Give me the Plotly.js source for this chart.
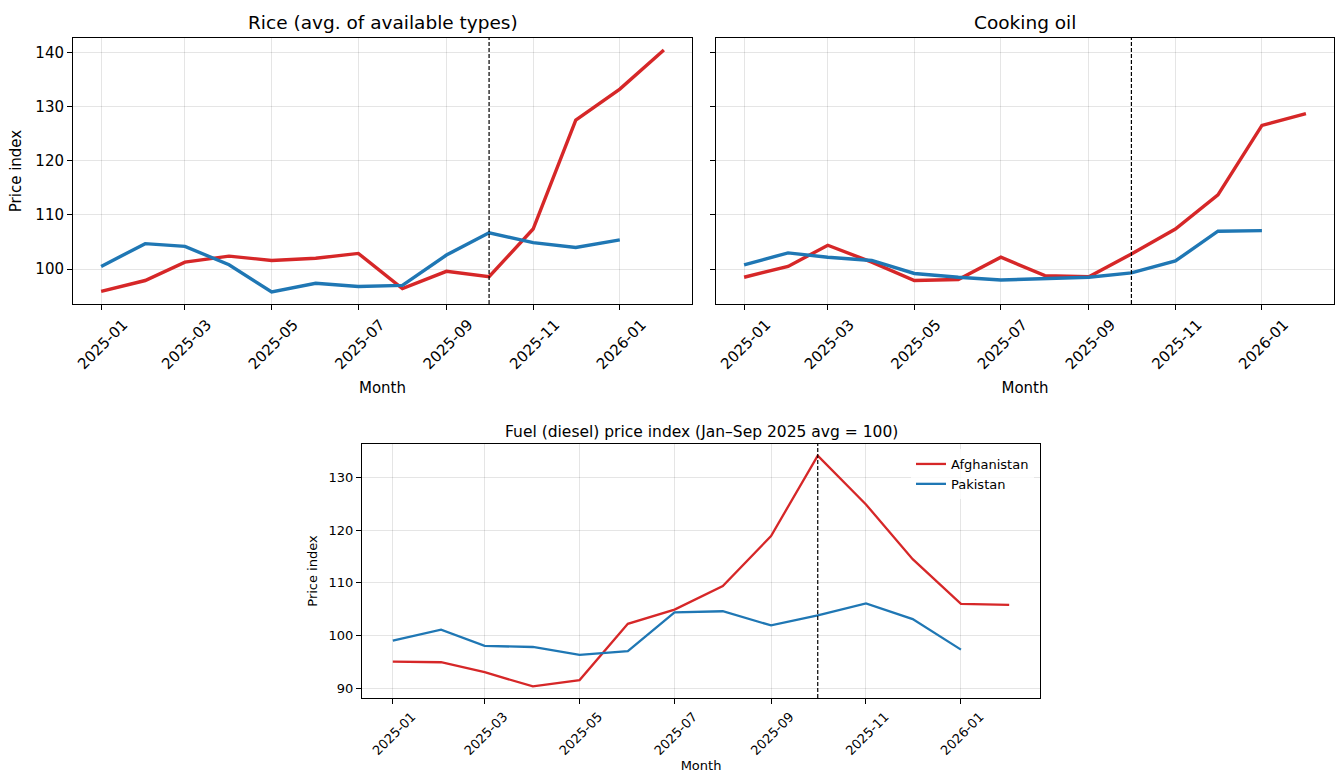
<!DOCTYPE html>
<html>
<head>
<meta charset="utf-8">
<script src="https://cdn.plot.ly/plotly-3.0.1.min.js"></script>
<style>html,body{margin:0;padding:0;background:#fff;}#chart{width:1339px;height:773px;}</style>
</head>
<body>
<div id="chart"></div>
<script>
const months = ['2025-01-01','2025-02-01','2025-03-01','2025-04-01','2025-05-01','2025-06-01','2025-07-01','2025-08-01','2025-09-01','2025-10-01','2025-11-01','2025-12-01','2026-01-01','2026-02-01'];
const tickVals = ['2025-01-01','2025-03-01','2025-05-01','2025-07-01','2025-09-01','2025-11-01','2026-01-01'];
const tickText = ['2025-01','2025-03','2025-05','2025-07','2025-09','2025-11','2026-01'];
const eventDate = '2025-10-01';
const seriesNames = ['Afghanistan','Pakistan'];

const riceAfg = [95.9, 97.9, 101.3, 102.4, 101.6, 102.0, 102.9, 96.4, 99.6, 98.6, 107.4, 127.5, 133.2, 140.4];
const ricePak = [100.5, 104.7, 104.2, 100.8, 95.8, 97.4, 96.8, 97.0, 102.6, 106.7, 104.9, 104.0, 105.4];
const oilAfg  = [98.5, 100.5, 104.4, 101.3, 97.9, 98.1, 102.2, 98.8, 98.6, 102.8, 107.4, 113.7, 126.5, 128.7];
const oilPak  = [100.8, 103.0, 102.2, 101.6, 99.2, 98.5, 98.0, 98.3, 98.5, 99.3, 101.5, 107.0, 107.1];
const fuelAfg = [95.0, 94.9, 93.0, 90.3, 91.5, 102.2, 104.9, 109.4, 118.9, 134.2, 124.9, 114.5, 106.0, 105.8];
const fuelPak = [99.0, 101.1, 98.0, 97.8, 96.3, 97.0, 104.4, 104.6, 101.9, 103.8, 106.1, 103.1, 97.3];

const titles = ['Rice (avg. of available types)', 'Cooking oil', 'Fuel (diesel) price index (Jan\u2013Sep 2025 avg = 100)'];

const RED = '#d62728', BLUE = '#1f77b4';
const W = 1339, H = 773;
const FONT = 'DejaVu Sans, sans-serif';

function tr(x, y, color, width, xa, ya, name, show) {
  return {x: x, y: y, type: 'scatter', mode: 'lines', name: name, showlegend: show,
    line: {color: color, width: width}, xaxis: xa, yaxis: ya};
}

const data = [
  tr(months, riceAfg, RED, 3.4, 'x', 'y', seriesNames[0], false),
  tr(months.slice(0, ricePak.length), ricePak, BLUE, 3.4, 'x', 'y', seriesNames[1], false),
  tr(months, oilAfg, RED, 3.4, 'x2', 'y2', seriesNames[0], false),
  tr(months.slice(0, oilPak.length), oilPak, BLUE, 3.4, 'x2', 'y2', seriesNames[1], false),
  tr(months, fuelAfg, RED, 2.3, 'x3', 'y3', seriesNames[0], true),
  tr(months.slice(0, fuelPak.length), fuelPak, BLUE, 2.3, 'x3', 'y3', seriesNames[1], true)
];

const xRange = ['2024-12-12 05:00', '2026-02-20 19:00'];

function xax(domain, anchor, fs, titleFs, shift, standoff) {
  return {domain: domain, anchor: anchor, range: xRange, type: 'date',
    tickmode: 'array', tickvals: tickVals, ticktext: tickText, tickangle: -45,
    ticklabelshift: shift,
    tickfont: {family: FONT, size: fs, color: '#000'},
    ticks: 'outside', ticklen: 5, tickcolor: '#000', tickwidth: 1,
    showline: true, linecolor: '#000', linewidth: 1, mirror: true,
    showgrid: true, gridcolor: 'rgba(0,0,0,0.1)', gridwidth: 1, zeroline: false,
    title: {text: 'Month', font: {family: FONT, size: titleFs, color: '#000'}, standoff: standoff}};
}
function yax(domain, anchor, range, dtick, fs, titleFs, showLabels, title, standoff) {
  return {domain: domain, anchor: anchor, range: range, tickmode: 'linear', tick0: 0, dtick: dtick,
    showticklabels: showLabels,
    tickfont: {family: FONT, size: fs, color: '#000'},
    ticks: 'outside', ticklen: 5, tickcolor: '#000', tickwidth: 1,
    showline: true, linecolor: '#000', linewidth: 1, mirror: true,
    showgrid: true, gridcolor: 'rgba(0,0,0,0.1)', gridwidth: 1, zeroline: false,
    title: title ? {text: title, font: {family: FONT, size: titleFs, color: '#000'}, standoff: standoff} : {text: ''}};
}

const d1x = [73 / W, 692 / W], d2x = [716 / W, 1334 / W], d3x = [362 / W, 1040 / W];
const dTop = [1 - 304 / H, 1 - 38 / H], dBot = [1 - 698 / H, 1 - 444 / H];
const topRange = [93.57, 142.63], botRange = [88.1, 136.4];

function vline(xref, yref) {
  return {type: 'line', xref: xref, yref: yref + ' domain', x0: eventDate, x1: eventDate, y0: 0, y1: 1,
    line: {color: '#000', width: 1.2, dash: '4px,2px'}};
}

const layout = {
  width: W, height: H,
  margin: {l: 0, r: 0, t: 0, b: 0},
  paper_bgcolor: '#fff', plot_bgcolor: '#fff',
  font: {family: FONT, color: '#000'},
  xaxis: xax(d1x, 'y', 15, 15, 22, 10),
  yaxis: yax(dTop, 'x', topRange, 10, 15, 15, true, 'Price index', 10),
  xaxis2: xax(d2x, 'y2', 15, 15, 22, 10),
  yaxis2: yax(dTop, 'x2', topRange, 10, 15, 15, false, '', 8),
  xaxis3: xax(d3x, 'y3', 13, 13, 19, 6),
  yaxis3: yax(dBot, 'x3', botRange, 10, 13, 13, true, 'Price index', 8),
  shapes: [vline('x', 'y'), vline('x2', 'y2'), vline('x3', 'y3')],
  annotations: [
    {text: titles[0], xref: 'paper', yref: 'paper', x: (73 + 692) / 2 / W, y: 1 - 22 / H, xanchor: 'center', yanchor: 'middle', showarrow: false, font: {family: FONT, size: 18.5, color: '#000'}},
    {text: titles[1], xref: 'paper', yref: 'paper', x: (716 + 1334) / 2 / W, y: 1 - 22 / H, xanchor: 'center', yanchor: 'middle', showarrow: false, font: {family: FONT, size: 18.5, color: '#000'}},
    {text: titles[2], xref: 'paper', yref: 'paper', x: (362 + 1040) / 2 / W, y: 1 - 432 / H, xanchor: 'center', yanchor: 'middle', showarrow: false, font: {family: FONT, size: 15.5, color: '#000'}}
  ],
  legend: {x: 1034 / W, y: 1 - 449 / H, xanchor: 'right', yanchor: 'top', bgcolor: 'rgba(255,255,255,0.8)',
    borderwidth: 0, font: {family: FONT, size: 13, color: '#000'}, tracegroupgap: 2, itemwidth: 30}
};

Plotly.newPlot('chart', data, layout, {displayModeBar: false, staticPlot: true});
</script>
</body>
</html>
